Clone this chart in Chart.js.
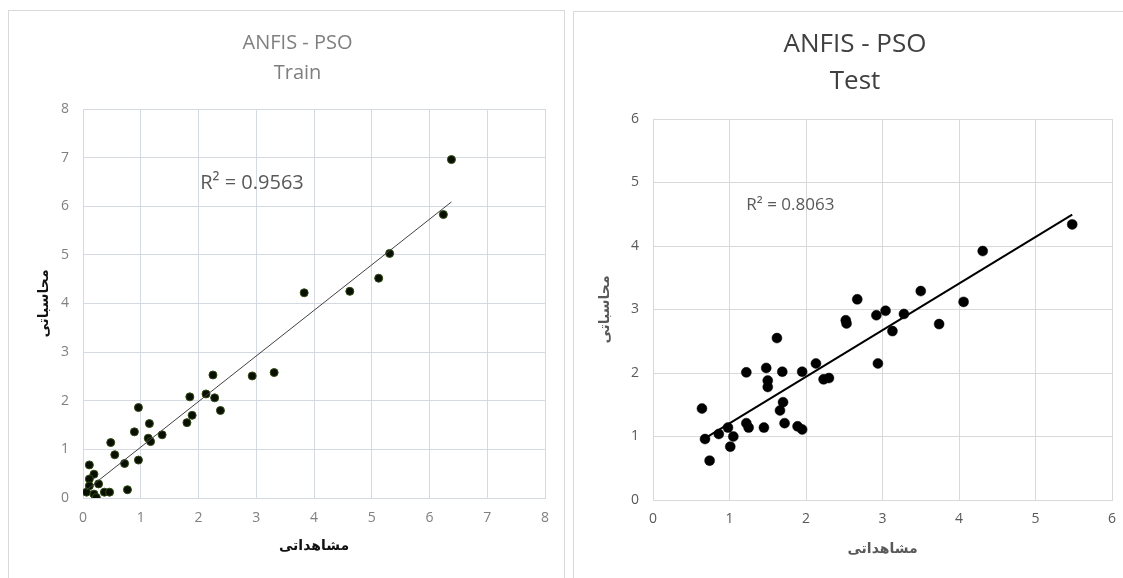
<!DOCTYPE html>
<html>
<head>
<meta charset="utf-8">
<script src="https://cdn.jsdelivr.net/npm/chart.js@4.4.1/dist/chart.umd.min.js"></script>
<style>
    html, body { margin: 0; padding: 0; background: #fff; }
    body { width: 1123px; height: 578px; position: relative; overflow: hidden; }
    .panel { position: absolute; border: 1px solid #d9d9d9; background: #fff; box-sizing: border-box; }
    canvas { position: absolute; }
</style>
</head>
<body>
<div class="panel" style="left:8px; top:10px; width:557px; height:620px;"></div>
<div class="panel" style="left:573px; top:11px; width:600px; height:620px;"></div>
<canvas id="trainChart" width="579" height="567" style="left:8px; top:11px;"></canvas>
<canvas id="testChart" width="564" height="566" style="left:573px; top:12px;"></canvas>

<script>
// Train set (observed vs computed)
const trainObserved = [0.11, 0.19, 0.11, 0.27, 0.11, 0.06, 0.19, 0.23, 0.37, 0.46, 0.77, 0.48,
    0.55, 0.72, 0.96, 0.89, 0.96, 1.15, 1.13, 1.17, 1.37, 1.80, 1.89, 1.85, 2.13, 2.28, 2.38,
    2.25, 2.93, 3.31, 3.83, 4.62, 5.12, 5.31, 6.24, 6.38];
const trainComputed = [0.68, 0.49, 0.39, 0.29, 0.25, 0.12, 0.08, 0.01, 0.12, 0.12, 0.17, 1.14,
    0.89, 0.71, 0.78, 1.36, 1.86, 1.53, 1.23, 1.16, 1.30, 1.55, 1.70, 2.08, 2.14, 2.06, 1.80,
    2.53, 2.51, 2.58, 4.22, 4.25, 4.52, 5.03, 5.83, 6.96];

// Test set
const testObserved = [0.64, 0.68, 0.74, 0.86, 0.98, 1.05, 1.01, 1.22, 1.22, 1.25, 1.45, 1.48,
    1.50, 1.50, 1.62, 1.69, 1.70, 1.66, 1.72, 1.89, 1.95, 1.95, 2.13, 2.23, 2.30, 2.52, 2.53,
    2.67, 2.92, 3.04, 2.94, 3.13, 3.28, 3.50, 3.74, 4.06, 4.31, 5.48];
const testComputed = [1.44, 0.96, 0.62, 1.04, 1.14, 1.00, 0.84, 2.01, 1.21, 1.14, 1.14, 2.08,
    1.88, 1.78, 2.55, 2.02, 1.54, 1.41, 1.21, 1.16, 1.11, 2.02, 2.15, 1.90, 1.92, 2.83, 2.78,
    3.16, 2.91, 2.98, 2.15, 2.66, 2.93, 3.29, 2.77, 3.12, 3.92, 4.34];

const trainTicks = [0, 1, 2, 3, 4, 5, 6, 7, 8];
const testTicks = [0, 1, 2, 3, 4, 5, 6];

const xTitle = 'مشاهداتی';
const yTitle = 'محاسباتی';

// least squares line over the data range (like an Excel linear trendline)
function trendLine(xs, ys) {
    const n = xs.length;
    const mx = xs.reduce((a, b) => a + b, 0) / n;
    const my = ys.reduce((a, b) => a + b, 0) / n;
    let sxy = 0, sxx = 0;
    xs.forEach((x, i) => { sxy += (x - mx) * (ys[i] - my); sxx += (x - mx) * (x - mx); });
    const slope = sxy / sxx;
    const icpt = my - slope * mx;
    const x0 = Math.min(...xs), x1 = Math.max(...xs);
    return [{ x: x0, y: icpt + slope * x0 }, { x: x1, y: icpt + slope * x1 }];
}

// draws the R² text at a data position
const r2Plugin = {
    id: 'r2Label',
    afterDatasetsDraw(chart, args, opts) {
        const { ctx, scales } = chart;
        ctx.save();
        ctx.font = opts.font;
        ctx.fillStyle = opts.color;
        ctx.textAlign = 'left';
        ctx.textBaseline = 'middle';
        ctx.fillText(opts.text, scales.x.getPixelForValue(opts.x), scales.y.getPixelForValue(opts.y));
        ctx.restore();
    }
};

function makeChart(id, cfg) {
    const points = cfg.xs.map((x, i) => ({ x, y: cfg.ys[i] }));
    const tickList = cfg.ticks;
    return new Chart(document.getElementById(id), {
        type: 'scatter',
        data: {
            datasets: [
                {
                    data: trendLine(cfg.xs, cfg.ys),
                    showLine: true,
                    pointRadius: 0,
                    borderColor: cfg.lineColor,
                    borderWidth: cfg.lineWidth
                },
                {
                    data: points,
                    pointRadius: cfg.pointRadius,
                    pointHoverRadius: cfg.pointRadius,
                    backgroundColor: cfg.pointFill,
                    borderColor: cfg.pointEdge,
                    borderWidth: 1
                }
            ]
        },
        options: {
            responsive: false,
            animation: false,
            events: [],
            layout: { padding: 0 },
            plugins: {
                legend: { display: false },
                tooltip: { enabled: false },
                title: {
                    display: true,
                    text: cfg.title,
                    color: cfg.titleColor,
                    font: { family: 'Open Sans', size: cfg.titleSize, weight: 'normal', lineHeight: cfg.titleLine },
                    padding: cfg.titlePad
                },
                r2Label: cfg.r2
            },
            scales: {
                x: {
                    type: 'linear',
                    min: tickList[0],
                    max: tickList[tickList.length - 1],
                    afterBuildTicks: (s) => { s.ticks = tickList.map(v => ({ value: v })); },
                    ticks: { color: cfg.tickColor, font: { family: 'Open Sans', size: 14 }, padding: cfg.xTickPad },
                    grid: { color: cfg.gridColor, drawTicks: false },
                    border: { color: cfg.gridColor },
                    title: {
                        display: true, text: xTitle, color: cfg.axisTitleColor,
                        font: { family: 'DejaVu Sans', size: 14, weight: 'bold' },
                        padding: { top: 0, bottom: cfg.xTitlePad }
                    },
                    afterFit: (s) => { s.height = cfg.xAxisHeight; }
                },
                y: {
                    type: 'linear',
                    min: tickList[0],
                    max: cfg.yMax,
                    ticks: { stepSize: 1, color: cfg.tickColor, font: { family: 'Open Sans', size: 14 }, padding: 14 },
                    grid: { color: cfg.gridColor, drawTicks: false },
                    border: { color: cfg.gridColor },
                    title: {
                        display: true, text: yTitle, color: cfg.axisTitleColor,
                        font: { family: 'DejaVu Sans', size: 14, weight: 'bold' },
                        padding: { top: cfg.yTitlePad, bottom: 0 }
                    },
                    afterFit: (s) => { s.width = cfg.yAxisWidth; }
                },
                // empty right box so the chart title centres like the original
                y2: {
                    position: 'right',
                    grid: { display: false },
                    ticks: { display: false },
                    border: { display: false },
                    afterFit: (s) => { s.width = cfg.rightGap; }
                }
            }
        },
        plugins: [r2Plugin]
    });
}

makeChart('trainChart', {
    xs: trainObserved, ys: trainComputed, ticks: trainTicks, yMax: 8,
    title: ['ANFIS - PSO', 'Train'], titleColor: '#7f7f7f', titleSize: 20, titleLine: 1.5,
    titlePad: { top: 17, bottom: 21 },
    tickColor: '#808080', gridColor: '#d5dae2', axisTitleColor: '#111111',
    xTickPad: 12, xTitlePad: 23, xAxisHeight: 80,
    yTitlePad: 28, yAxisWidth: 75, rightGap: 42,
    lineColor: '#404040', lineWidth: 1,
    pointRadius: 4, pointFill: '#0a0f02', pointEdge: '#2e4a14',
    r2: { text: 'R² = 0.9563', x: 2.03, y: 6.47, font: '20px "Open Sans"', color: '#595959' }
});

makeChart('testChart', {
    xs: testObserved, ys: testComputed, ticks: testTicks, yMax: 6,
    title: ['ANFIS - PSO', 'Test'], titleColor: '#404040', titleSize: 26, titleLine: 37 / 26,
    titlePad: { top: 14, bottom: 19 },
    tickColor: '#595959', gridColor: '#d9d9d9', axisTitleColor: '#595959',
    xTickPad: 11, xTitlePad: 20, xAxisHeight: 78,
    yTitlePad: 24, yAxisWidth: 80, rightGap: 25,
    lineColor: '#000000', lineWidth: 2,
    pointRadius: 5, pointFill: '#000000', pointEdge: 'rgba(0,0,0,0.45)',
    r2: { text: 'R² = 0.8063', x: 1.22, y: 4.65, font: '17px "Open Sans"', color: '#595959' }
});
</script>
</body>
</html>
